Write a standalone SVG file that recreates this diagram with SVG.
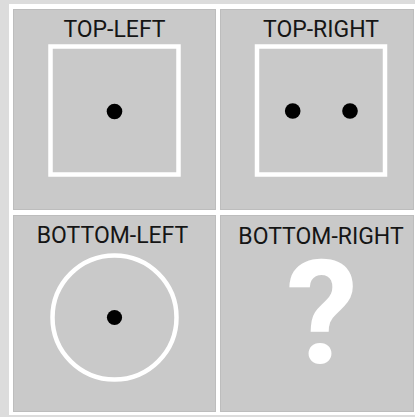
<svg xmlns="http://www.w3.org/2000/svg" width="415" height="417" viewBox="0 0 415 417">
<style>
.panel{fill:#c9c9c9;stroke:#bdbdbd;stroke-width:1}
.label{font-family:Roboto,"Liberation Sans",sans-serif;font-size:23px;fill:#151515;text-anchor:middle}
.shape{fill:none;stroke:#ffffff;stroke-width:4.5}
.dot{fill:#000000}
.q{font-family:Roboto,"Liberation Sans",sans-serif;font-weight:bold;font-size:144px;fill:#ffffff;text-anchor:middle}
</style>
<rect x="0" y="0" width="415" height="417" fill="#dcdcdc"/>
<rect x="9" y="4" width="406" height="411" fill="#ffffff"/>
<g id="top-left">
<rect class="panel" x="13.5" y="9.5" width="202" height="200"/>
<text class="label" x="114.5" y="36.5">TOP-LEFT</text>
<rect class="shape" x="50.5" y="46.5" width="128" height="128"/>
<circle class="dot" cx="114.5" cy="111.5" r="7.8"/>
</g>
<g id="top-right">
<rect class="panel" x="220.5" y="9.5" width="193" height="200"/>
<text class="label" x="321" y="36.5">TOP-RIGHT</text>
<rect class="shape" x="257" y="46.5" width="128" height="128"/>
<circle class="dot" cx="292.7" cy="111" r="7.8"/>
<circle class="dot" cx="350" cy="111" r="7.8"/>
</g>
<g id="bottom-left">
<rect class="panel" x="13.5" y="215.5" width="202" height="196"/>
<text class="label" x="112.5" y="243">BOTTOM-LEFT</text>
<circle class="shape" cx="114.5" cy="317.5" r="62"/>
<circle class="dot" cx="114.5" cy="317.5" r="7.6"/>
</g>
<g id="bottom-right">
<rect class="panel" x="220.5" y="215.5" width="193" height="196"/>
<text class="label" x="321" y="244">BOTTOM-RIGHT</text>
<text class="q" x="322" y="363">?</text>
</g>
<g id="connectors"></g>
</svg>
